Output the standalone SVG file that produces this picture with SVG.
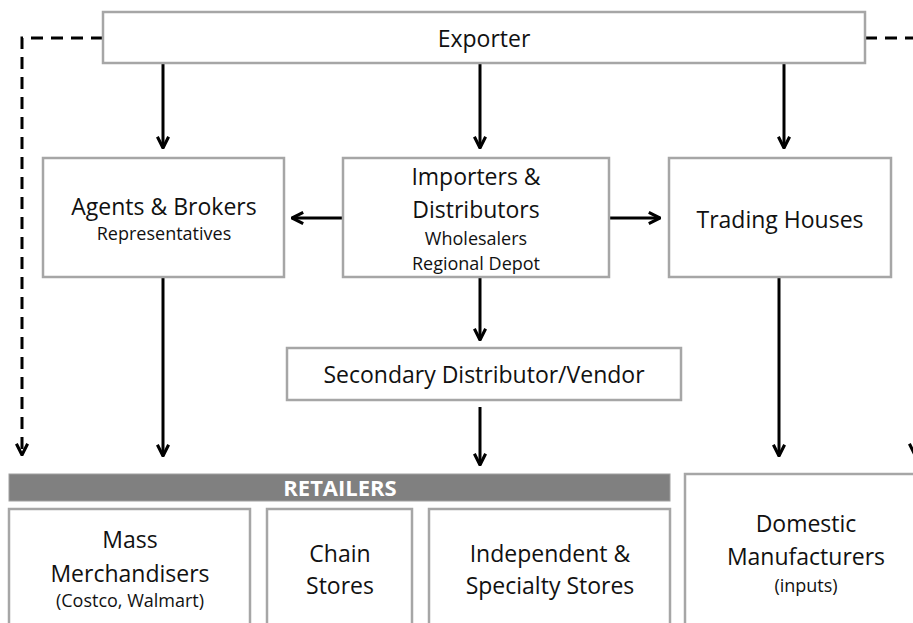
<svg xmlns="http://www.w3.org/2000/svg" width="913" height="623" viewBox="0 0 913 623">
<defs>
<style>
.box{fill:#fff;stroke:#a6a6a6;stroke-width:2.5}
.t{font-family:"Open Sans","Liberation Sans",sans-serif;fill:#111;text-anchor:middle}
.big{font-size:23px}
.sm{font-size:18px}
.line{stroke:#000;stroke-width:3;fill:none}
.dash{stroke:#000;stroke-width:3;fill:none;stroke-dasharray:12 8}
</style>
<marker id="ah" viewBox="0 0 10 10" refX="9" refY="5" markerUnits="userSpaceOnUse" markerWidth="14" markerHeight="14" orient="auto">
<path d="M1,1 L9,5 L1,9" fill="none" stroke="#000" stroke-width="2.2"/>
</marker>
</defs>
<rect width="913" height="623" fill="#fff"/>
<g id="connectors">
<path class="dash" d="M103,38 H22 V455" marker-end="url(#ah)"/>
<path class="dash" d="M865,38 H915 V455" marker-end="url(#ah)"/>
<path class="line" d="M163,64 V148" marker-end="url(#ah)"/>
<path class="line" d="M480,64 V148" marker-end="url(#ah)"/>
<path class="line" d="M784,64 V148" marker-end="url(#ah)"/>
<path class="line" d="M343,218 H292" marker-end="url(#ah)"/>
<path class="line" d="M609,218 H660" marker-end="url(#ah)"/>
<path class="line" d="M480,277 V340" marker-end="url(#ah)"/>
<path class="line" d="M163,277 V456" marker-end="url(#ah)"/>
<path class="line" d="M779,277 V456" marker-end="url(#ah)"/>
<path class="line" d="M480,407 V465" marker-end="url(#ah)"/>
</g>
<g id="exporter">
<rect class="box" x="103" y="12" width="762" height="51"/>
<text class="t big" x="484" y="47">Exporter</text>
</g>
<g id="agents">
<rect class="box" x="43" y="158" width="241" height="119"/>
<text class="t big" x="164" y="215">Agents &amp; Brokers</text>
<text class="t sm" x="164" y="240">Representatives</text>
</g>
<g id="importers">
<rect class="box" x="343" y="158" width="266" height="119"/>
<text class="t big" x="476" y="185">Importers &amp;</text>
<text class="t big" x="476" y="218">Distributors</text>
<text class="t sm" x="476" y="245">Wholesalers</text>
<text class="t sm" x="476" y="270">Regional Depot</text>
</g>
<g id="trading">
<rect class="box" x="669" y="158" width="222" height="119"/>
<text class="t big" x="780" y="228">Trading Houses</text>
</g>
<g id="secondary">
<rect class="box" x="287" y="348" width="394" height="52"/>
<text class="t big" x="484" y="383">Secondary Distributor/Vendor</text>
</g>
<g id="retailers">
<rect x="9" y="474" width="661" height="27" fill="#808080" stroke="#a0a0a0" stroke-width="1"/>
<text class="t" x="340" y="496" style="font-weight:bold;fill:#fff;font-size:22px">RETAILERS</text>
</g>
<g id="mass">
<rect class="box" x="9" y="509" width="241" height="130"/>
<text class="t big" x="130" y="548">Mass</text>
<text class="t big" x="130" y="582">Merchandisers</text>
<text class="t sm" x="130" y="607">(Costco, Walmart)</text>
</g>
<g id="chain">
<rect class="box" x="267" y="509" width="145" height="130"/>
<text class="t big" x="340" y="562">Chain</text>
<text class="t big" x="340" y="594">Stores</text>
</g>
<g id="independent">
<rect class="box" x="429" y="509" width="241" height="130"/>
<text class="t big" x="550" y="562">Independent &amp;</text>
<text class="t big" x="550" y="594">Specialty Stores</text>
</g>
<g id="domestic">
<rect class="box" x="685" y="474" width="241" height="165"/>
<text class="t big" x="806" y="532">Domestic</text>
<text class="t big" x="806" y="565">Manufacturers</text>
<text class="t sm" x="806" y="592">(inputs)</text>
</g>
</svg>
